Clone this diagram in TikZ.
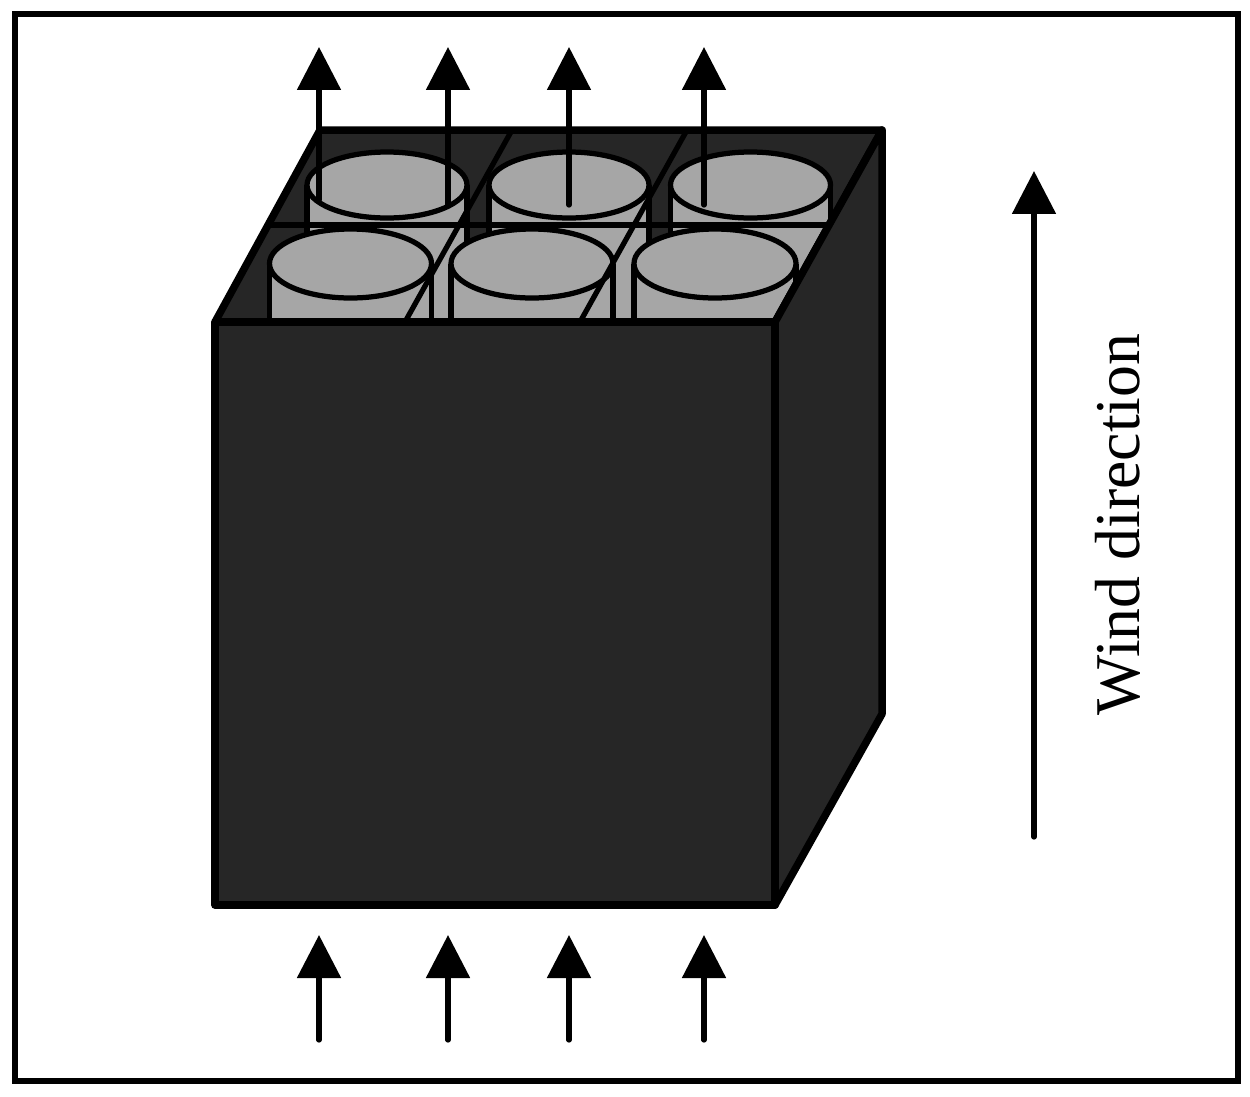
\documentclass[tikz,border=0pt]{standalone}
\usepackage{fontspec}
\setmainfont{Liberation Serif}
\usetikzlibrary{arrows.meta}
\definecolor{boxdark}{HTML}{262626}
\definecolor{cylgray}{HTML}{A6A6A6}
\tikzset{
  boxface/.style={draw=black, fill=boxdark, line width=0.15cm, line join=round},
  cylbody/.style={fill=cylgray},
  cyledge/.style={draw=black, line width=0.11cm},
  cyltop/.style={draw=black, fill=cylgray, line width=0.105cm},
  divider/.style={draw=black, line width=0.105cm},
  windarrow/.style={draw=black, line width=0.105cm, line cap=round, -{Triangle[length=0.86cm, width=0.86cm]}}
}
\begin{document}
\begin{tikzpicture}[x=0.02cm, y=-0.02cm]
    \useasboundingbox (0,0) rectangle (1250,1096);
    \node (frame) [draw, line width=0.115cm, minimum width=24.46cm, minimum height=21.34cm, inner sep=0pt] at (626.5,547.5) {};

    % corners of the box
    \coordinate (ftl) at (215,322);
    \coordinate (ftr) at (775,322);
    \coordinate (fbl) at (215,905);
    \coordinate (fbr) at (775,905);
    \coordinate (btl) at (320,130);
    \coordinate (btr) at (882,130);
    \coordinate (bbr) at (882,714);

    \fill[boxdark] (ftl) -- (btl) -- (btr) -- (ftr) -- cycle;

    % cylinders seen through the top
    \begin{scope}
      \clip (ftl) -- (btl) -- (btr) -- (ftr) -- cycle;
      \foreach \cx in {387,569,750.5} {
        \fill[cylbody] (\cx-80,185) rectangle (\cx+80,322);
        \draw[cyledge] (\cx-80,185) -- (\cx-80,322);
        \draw[cyledge] (\cx+80,185) -- (\cx+80,322);
        \draw[cyltop] (\cx,185) ellipse [x radius=80, y radius=33];
      }
      \foreach \cx in {350.5,532,715} {
        \fill[cylbody] (\cx-81,263.5) rectangle (\cx+81,322);
        \draw[cyledge] (\cx-81,263.5) -- (\cx-81,322);
        \draw[cyledge] (\cx+81,263.5) -- (\cx+81,322);
        \draw[cyltop] (\cx,263.5) ellipse [x radius=81, y radius=34.5];
      }
    \end{scope}

    % grid on the top
    \coordinate (gl) at (266,225);
    \coordinate (gr) at (828,225);
    \coordinate (ga1) at (512,130);
    \coordinate (gb1) at (405,322);
    \coordinate (ga2) at (687,130);
    \coordinate (gb2) at (580,322);
    \draw[divider] (gl) -- (gr);
    \draw[divider] (ga1) -- (gb1);
    \draw[divider] (ga2) -- (gb2);
    \draw[boxface, fill=none] (ftl) -- (btl) -- (btr) -- (ftr);

    \draw[boxface] (ftr) -- (btr) -- (bbr) -- (fbr) -- cycle;
    \draw[boxface] (ftl) -- (ftr) -- (fbr) -- (fbl) -- cycle;

    % arrows
    \foreach \name/\ax/\tl in {a/319/200, b/448/205, c/569/205, d/704/205} {
      \coordinate (\name out) at (\ax,\tl);
      \coordinate (\name tip) at (\ax,47);
      \coordinate (\name in) at (\ax,1040);
      \coordinate (\name head) at (\ax,935);
      \draw[windarrow] (\name out) -- (\name tip);
      \draw[windarrow] (\name in) -- (\name head);
    }
    \coordinate (wtail) at (1034,837);
    \coordinate (wtip) at (1034,171);
    \draw[windarrow] (wtail) -- (wtip);

    \node (wind) [rotate=90, inner sep=0pt, font=\fontsize{36.3}{40}\selectfont] at (1118,524.5) {Wind direction};
  \end{tikzpicture}
\end{document}
